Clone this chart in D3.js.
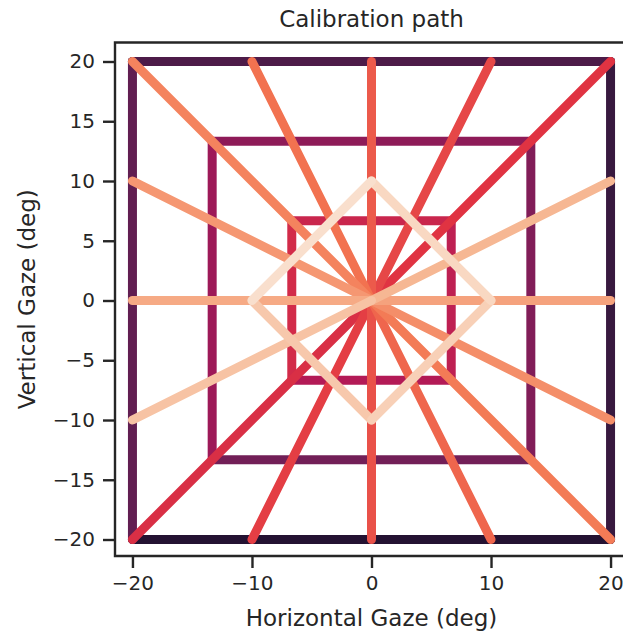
<!DOCTYPE html>
<html>
<head>
<meta charset="utf-8">
<style>
  html, body { margin: 0; padding: 0; background: #fff; overflow: hidden; }
  svg { display: block; font-family: "DejaVu Sans", sans-serif; }
</style>
</head>
<body>
<svg id="chart" width="623" height="635"></svg>
<script src="https://cdn.jsdelivr.net/npm/d3@7"></script>
<script>
// concentric squares (half side, deg), drawn bottom -> right -> top -> left
var squareSizes = [20, 13.33, 6.67];
var squareTones = [[0.095, 0.15, 0.2, 0.25], [0.29, 0.325, 0.355, 0.39], [0.445, 0.475, 0.505, 0.53]];

// radial moves from the centre, in the order they were made
var radialX = [-20, 20, -10, 10, 0, 0, 10, -10, 20, -20, 20, -20, 20, -20, 20, -20];
var radialY = [-20, 20, -20, 20, -20, 20, -20, 20, -20, 20, -10, 10, 0, 0, 10, -10];
var radialTones = [0.55, 0.57, 0.595, 0.615, 0.635, 0.655, 0.68, 0.705, 0.725, 0.745, 0.77, 0.79, 0.815, 0.835, 0.865, 0.895];

// final diamond
var diamondX = [-10, 0, 10, 0, -10];
var diamondY = [0, -10, 0, 10, 0];
var diamondTones = [0.91, 0.93, 0.95, 0.97];

var xTicks = [-20, -10, 0, 10, 20];
var yTicks = [-20, -15, -10, -5, 0, 5, 10, 15, 20];

// rocket colormap stops
var rocket = d3.scaleLinear()
    .domain([0, 1/7, 2/7, 3/7, 4/7, 5/7, 6/7, 1])
    .range(["#03051a", "#35193e", "#701f57", "#ad1759", "#e13342", "#f37651", "#f6b48f", "#faebdd"])
    .interpolate(d3.interpolateRgb);

var svg = d3.select("#chart");
var plotL = 115, plotT = 42.5, plotR = 628, plotB = 556;

var x = d3.scaleLinear().domain([-21.46, 21.46]).range([plotL, plotR]);
var y = d3.scaleLinear().domain([-21.38, 21.59]).range([plotB, plotT]);

// build the list of segments in drawing order
var segs = [];
squareSizes.forEach(function (h, k) {
    var cx = [-h, h, h, -h, -h], cy = [-h, -h, h, h, -h];
    for (var i = 0; i < 4; i++) {
        segs.push({x1: cx[i], y1: cy[i], x2: cx[i + 1], y2: cy[i + 1], t: squareTones[k][i]});
    }
});
radialX.forEach(function (v, i) {
    segs.push({x1: 0, y1: 0, x2: v, y2: radialY[i], t: radialTones[i]});
});
for (var i = 0; i < 4; i++) {
    segs.push({x1: diamondX[i], y1: diamondY[i], x2: diamondX[i + 1], y2: diamondY[i + 1], t: diamondTones[i]});
}

svg.append("g")
    .selectAll("line")
    .data(segs)
    .enter().append("line")
    .attr("x1", function (d) { return x(d.x1); })
    .attr("y1", function (d) { return y(d.y1); })
    .attr("x2", function (d) { return x(d.x2); })
    .attr("y2", function (d) { return y(d.y2); })
    .attr("stroke", function (d) { return rocket(d.t); })
    .attr("stroke-width", 9)
    .attr("stroke-linecap", "round");

// axes
var ink = "#262626";
var gx = svg.append("g")
    .attr("transform", "translate(0," + plotB + ")")
    .call(d3.axisBottom(x).tickValues(xTicks).tickSize(12).tickPadding(8));
var gy = svg.append("g")
    .attr("transform", "translate(" + plotL + ",0)")
    .call(d3.axisLeft(y).tickValues(yTicks).tickSize(12).tickPadding(8));

[gx, gy].forEach(function (g) {
    g.select(".domain").remove();
    g.selectAll(".tick line").attr("stroke", ink).attr("stroke-width", 2.4);
    g.selectAll(".tick text").attr("fill", ink).style("font-size", "20px")
        .style("font-family", "DejaVu Sans");
});

// spines: left, bottom, top
svg.append("path")
    .attr("d", "M" + plotR + "," + plotT + "H" + plotL + "V" + plotB + "H" + plotR)
    .attr("fill", "none")
    .attr("stroke", ink)
    .attr("stroke-width", 2.4);

svg.append("text")
    .attr("x", (plotL + plotR) / 2).attr("y", 27)
    .attr("text-anchor", "middle").attr("fill", ink)
    .style("font-size", "23px")
    .text("Calibration path");

svg.append("text")
    .attr("x", (plotL + plotR) / 2).attr("y", 626)
    .attr("text-anchor", "middle").attr("fill", ink)
    .style("font-size", "23px")
    .text("Horizontal Gaze (deg)");

svg.append("text")
    .attr("transform", "translate(35," + (plotT + plotB) / 2 + ") rotate(-90)")
    .attr("text-anchor", "middle").attr("fill", ink)
    .style("font-size", "23px")
    .text("Vertical Gaze (deg)");
</script>
</body>
</html>
